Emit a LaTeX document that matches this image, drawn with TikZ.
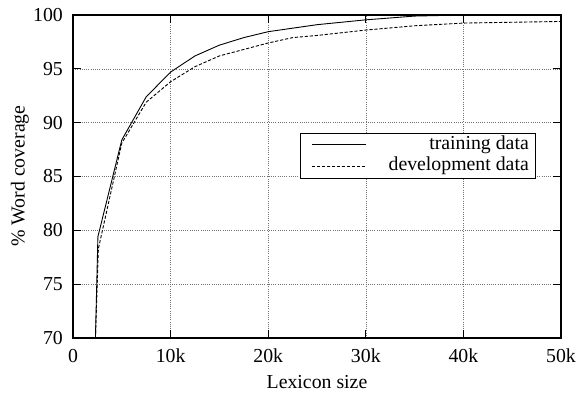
\documentclass[tikz,border=0pt]{standalone}
\usepackage{fontspec}
\setmainfont{Liberation Serif}
\begin{document}
\begin{tikzpicture}[x=1pt,y=1pt,
  gridline/.style={gray!90!black, line width=0.6pt, dash pattern=on 1pt off 1.2pt},
  frame/.style={black, line width=1.1pt},
  tickmark/.style={black, line width=0.9pt},
  train/.style={black, line width=0.9pt, line join=round},
  devel/.style={black, line width=0.9pt, line join=round, dash pattern=on 3.2pt off 1.8pt},
  lbl/.style={font=\fontsize{19.8}{21}\selectfont, inner sep=0pt}]
\useasboundingbox (0,0) rectangle (581,402);
\begin{scope}[x=9.76pt, y=10.767pt, shift={(73pt,-689.7pt)}]
  % grid
  \foreach \gx in {10,20,30,40} \draw[gridline] (\gx,70) -- (\gx,100);
  \foreach \gy in {75,80,85,90,95} \draw[gridline] (0,\gy) -- (50,\gy);
  % ticks on all four sides
  \foreach \gx in {10,20,30,40} {
    \draw[tickmark] (\gx,70) -- ++(0,8pt);
    \draw[tickmark] (\gx,100) -- ++(0,-8pt);
  }
  \foreach \gy in {75,80,85,90,95} {
    \draw[tickmark] (0,\gy) -- ++(8pt,0);
    \draw[tickmark] (50,\gy) -- ++(-8pt,0);
  }
  % tick labels
  \foreach \gx/\t in {0/0,10/10k,20/20k,30/30k,40/40k,50/50k}
    \node[lbl, anchor=north] (xl\gx) at ([yshift=-11pt]\gx,70) {\t};
  \foreach \gy in {70,75,80,85,90,95,100}
    \node[lbl, anchor=east] (ylab\gy) at ([xshift=-10pt]0,\gy) {\gy};
  % curves
  \begin{scope}
    \clip (0,70) rectangle (50,100);
    \draw[train] (2.3,70) -- (2.55,79.4) -- (5,88.4) -- (7.5,92.4) -- (10,94.7)
      -- (12.5,96.2) -- (15,97.2) -- (17.5,97.9) -- (20,98.45) -- (25,99.1)
      -- (30,99.55) -- (35,99.9) -- (40,100) -- (50,100);
    \draw[devel] (2.3,70) -- (2.6,78.3) -- (5,88.1) -- (7.5,91.9) -- (10,93.8)
      -- (12.5,95.2) -- (15,96.2) -- (17.5,96.8) -- (20,97.4) -- (22.5,97.9)
      -- (25,98.1) -- (30,98.6) -- (35,99.0) -- (40,99.25) -- (50,99.4);
  \end{scope}
  % frame
  \draw[frame] (0,70) rectangle (50,100);
\end{scope}
% legend
\node[draw, fill=white, line width=0.9pt, minimum width=235pt, minimum height=45pt,
      inner sep=0pt, anchor=north west] (legend) at (300,269) {};
\coordinate (ta) at (312,257.5);
\coordinate (tb) at (366,257.5);
\coordinate (da) at (312,236);
\coordinate (db) at (366,236);
\draw[train] (ta) -- (tb);
\draw[devel] (da) -- (db);
\node[lbl, anchor=east] (ttrain) at (529,257.5) {training data};
\node[lbl, anchor=east] (tdev) at (529,236) {development data};
% axis titles
\node[lbl] (xtitle) at (317,20) {Lexicon size};
\node[lbl, rotate=90] (ytitle) at (20,226) {\% Word coverage};
\end{tikzpicture}
\end{document}
